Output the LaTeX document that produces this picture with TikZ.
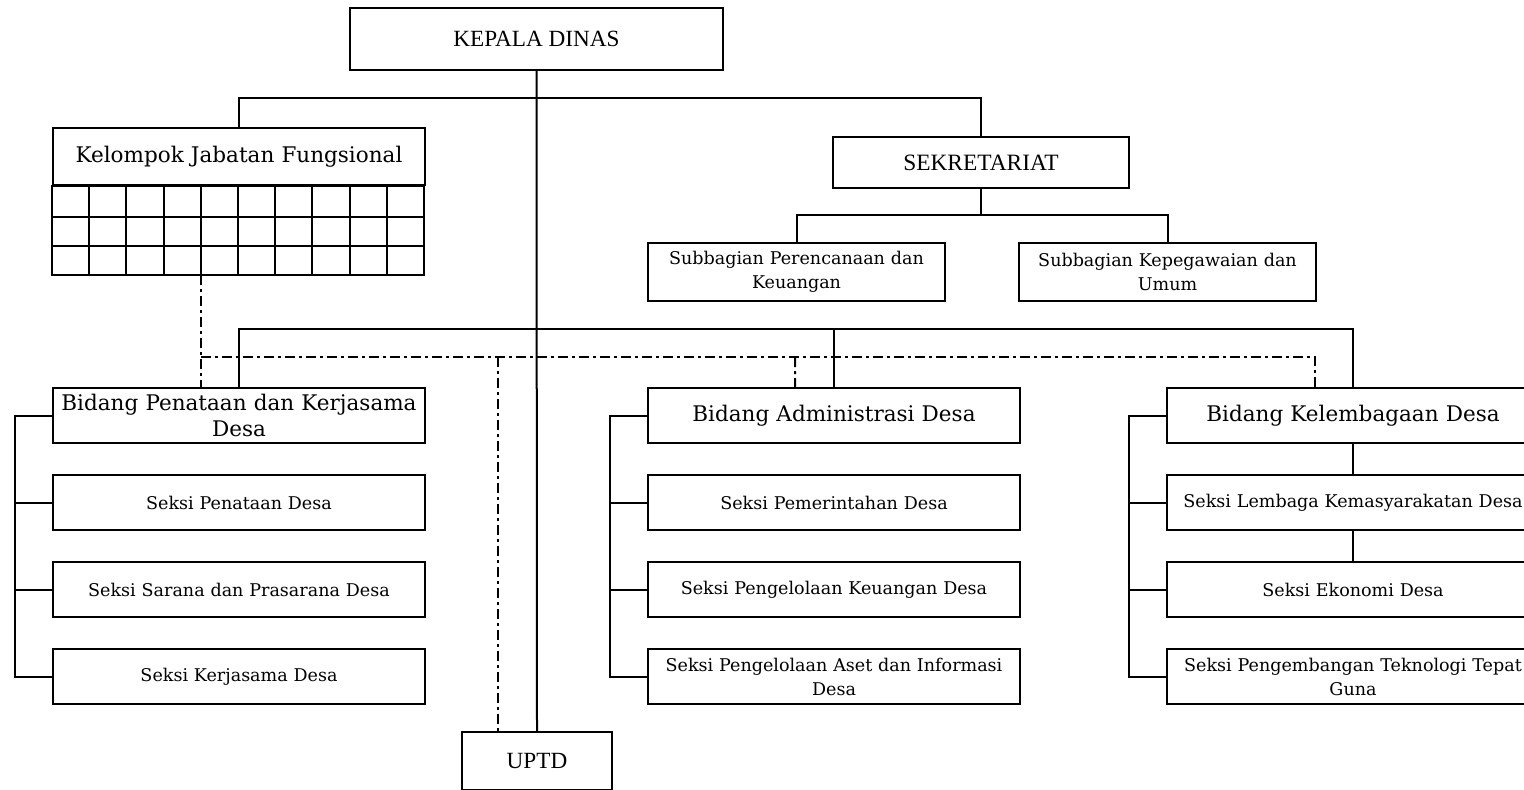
\documentclass[tikz,border=0pt]{standalone}
\usepackage{fontspec}
\setmainfont{DejaVu Serif}
\newfontfamily\timesfont{Liberation Serif}
\usetikzlibrary{positioning}

\begin{document}
\begin{tikzpicture}[x=1bp, y=-1bp, line width=2bp, node distance=30bp,
    unit/.style={rectangle, draw, inner sep=2bp, align=center},
    head/.style={unit, font=\timesfont\fontsize{23.3}{27}\selectfont},
    bidang/.style={unit, anchor=north west, minimum width=372bp, minimum height=55bp, text width=368bp, font=\fontsize{21.6}{27}\selectfont},
    seksi/.style={unit, anchor=north west, minimum width=372bp, minimum height=55bp, text width=368bp, font=\fontsize{17.6}{24}\selectfont},
    subbag/.style={seksi, minimum width=297bp, minimum height=58bp, text width=293bp},
    dashdot/.style={dash pattern=on 10bp off 4bp on 3bp off 4bp}]

    \useasboundingbox (0,0) rectangle (1524,789);

    % pimpinan
    \node (kd) [head, anchor=north west, minimum width=373bp, minimum height=62bp] at (349,7) {KEPALA DINAS};
    \node (kjf) [bidang, minimum height=57bp] at (52,127) {Kelompok Jabatan Fungsional};
    \node (sek) [head, anchor=north west, minimum width=296bp, minimum height=51bp, font=\timesfont\fontsize{23.5}{27}\selectfont] at (832,136) {SEKRETARIAT};
    \node (sub1) [subbag] at (647,242) {Subbagian Perencanaan dan\\Keuangan};
    \node (sub2) [subbag] at (1018,242) {Subbagian Kepegawaian dan\\Umum};

    % grid jabatan fungsional
    \draw (kjf.south west) rectangle ++(372,89);
    \foreach \i in {1,...,9}
        \draw ([xshift=\i*37.2bp]kjf.south west) -- ++(0,89);
    \foreach \j in {31,60}
        \draw ([yshift=-\j bp]kjf.south west) -- ++(372,0);
    \coordinate (kjfb) at ([xshift=4*37.2bp, yshift=-89bp]kjf.south west);

    % bidang
    \node (bp) [bidang] at (52,387) {Bidang Penataan dan Kerjasama\\Desa};
    \node (ba) [bidang] at (647,387) {Bidang Administrasi Desa};
    \node (bk) [bidang] at (1166,387) {Bidang Kelembagaan Desa};

    \node (bp1) [seksi, below=of bp] {Seksi Penataan Desa};
    \node (bp2) [seksi, below=of bp1] {Seksi Sarana dan Prasarana Desa};
    \node (bp3) [seksi, below=of bp2] {Seksi Kerjasama Desa};

    \node (ba1) [seksi, below=of ba] {Seksi Pemerintahan Desa};
    \node (ba2) [seksi, below=of ba1] {Seksi Pengelolaan Keuangan Desa};
    \node (ba3) [seksi, below=of ba2] {Seksi Pengelolaan Aset dan Informasi\\Desa};

    \node (bk1) [seksi, below=of bk] {Seksi Lembaga Kemasyarakatan Desa};
    \node (bk2) [seksi, below=of bk1] {Seksi Ekonomi Desa};
    \node (bk3) [seksi, below=of bk2] {Seksi Pengembangan Teknologi Tepat\\Guna};

    \node (uptd) [head, anchor=north west, minimum width=150bp, minimum height=58bp] at (461,731) {UPTD};

    % garis komando
    \coordinate (t1) at (535,98);
    \coordinate (t2) at (535,329);
    \draw (kd.south) -- (uptd.north);
    \draw (kjf.north) |- (t1) -| (sek.north);
    \draw (sek.south) -- ++(0,26) coordinate (s1);
    \draw (sub1.north) |- (s1) -| (sub2.north);
    \draw (bp.north) |- (t2) -| (bk.north);
    \draw (t2 -| ba.north) -- (ba.north);

    \foreach \b in {bp,ba,bk} {
        \draw (\b.west) -- ++(-37,0) |- (\b3.west);
        \draw (\b1.west) -- ++(-37,0);
        \draw (\b2.west) -- ++(-37,0);
    }
    \draw (bk) -- (bk1);
    \draw (bk1) -- (bk2);

    % garis koordinasi
    \coordinate (d0) at (kjfb |- 0,357);
    \draw[dashdot] (kjfb) -- (kjfb |- bp.north);
    \draw[dashdot] (d0) -| ([xshift=149bp]bk.north west);
    \draw[dashdot] (d0 -| ba.north west) ++(148,0) -- ([xshift=148bp]ba.north west);
    \draw[dashdot] ([xshift=37bp]uptd.north west |- d0) -- ([xshift=37bp]uptd.north west);

\end{tikzpicture}
\end{document}
